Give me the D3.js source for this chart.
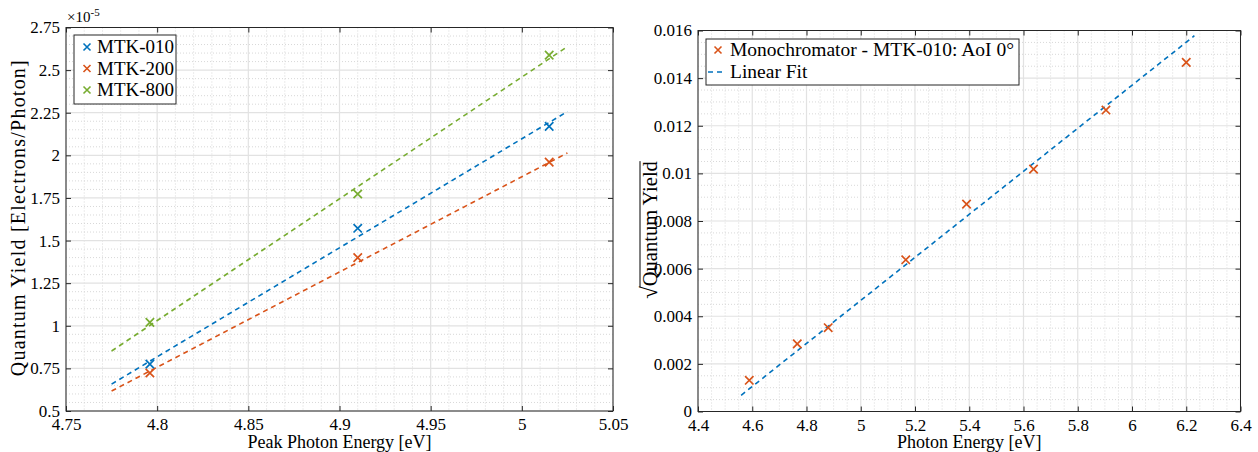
<!DOCTYPE html>
<html lang="en">
  <head>
    <meta charset="utf-8">
    <title>Quantum Yield vs Photon Energy</title>
    <script src="https://cdn.jsdelivr.net/npm/d3@7"></script>
    <style>
      body { margin: 0; background: #fff; }
      svg text { font-family: "Liberation Serif", "DejaVu Serif", serif !important; fill: #000; }
      .domain { display: none; }
    </style>
  </head>
  <body>
    <svg id="chart" width="1258" height="452"></svg>
    <script>
      // left panel: peak photon energy vs quantum yield (x1e-5)
      var peakEnergy = [4.796, 4.91, 5.015];
      var qyMTK010 = [0.775, 1.572, 2.17];
      var qyMTK200 = [0.723, 1.40, 1.96];
      var qyMTK800 = [1.02, 1.773, 2.588];
      var fitEnergy = [4.775, 5.025];
      var fitMTK010 = [0.658, 2.257];
      var fitMTK200 = [0.617, 2.014];
      var fitMTK800 = [0.852, 2.638];
      var leftXTicks = [4.75, 4.8, 4.85, 4.9, 4.95, 5, 5.05];
      var leftYTicks = [0.5, 0.75, 1, 1.25, 1.5, 1.75, 2, 2.25, 2.5, 2.75];
      var leftSeries = ["MTK-010", "MTK-200", "MTK-800"];

      // right panel: monochromator sqrt(QY)
      var monoEnergy = [4.589, 4.766, 4.88, 5.166, 5.39, 5.637, 5.904, 6.2];
      var sqrtQY = [0.00131, 0.00284, 0.00352, 0.00637, 0.00871, 0.01018, 0.01266, 0.01466];
      var linFitEnergy = [4.559, 6.23];
      var linFitValue = [0.00068, 0.01578];
      var rightXTicks = [4.4, 4.6, 4.8, 5, 5.2, 5.4, 5.6, 5.8, 6, 6.2, 6.4];
      var rightYTicks = [0, 0.002, 0.004, 0.006, 0.008, 0.01, 0.012, 0.014, 0.016];

      var blue = "#0072BD", orange = "#D95319", green = "#77AC30";
      var serif = '"Liberation Serif", "DejaVu Serif", serif';
      var svg = d3.select("#chart").style("font-family", serif);

      function minorTicks(major, n) {
        var out = [];
        for (var i = 0; i < major.length - 1; i++) {
          var step = (major[i + 1] - major[i]) / n;
          for (var k = 1; k < n; k++) out.push(major[i] + k * step);
        }
        return out;
      }

      function panel(opt) {
        var x = d3.scaleLinear().domain(d3.extent(opt.xTicks)).range([opt.x0, opt.x1]);
        var y = d3.scaleLinear().domain(d3.extent(opt.yTicks)).range([opt.y1, opt.y0]);
        var g = svg.append("g");

        // minor grid
        g.selectAll(".mx").data(minorTicks(opt.xTicks, opt.xMinor)).enter().append("line")
          .attr("x1", function(d) { return x(d); }).attr("x2", function(d) { return x(d); })
          .attr("y1", opt.y0).attr("y2", opt.y1)
          .attr("stroke", "#d8d8d8").attr("stroke-width", 1).attr("stroke-dasharray", "1,2");
        g.selectAll(".my").data(minorTicks(opt.yTicks, opt.yMinor)).enter().append("line")
          .attr("y1", function(d) { return y(d); }).attr("y2", function(d) { return y(d); })
          .attr("x1", opt.x0).attr("x2", opt.x1)
          .attr("stroke", "#d8d8d8").attr("stroke-width", 1).attr("stroke-dasharray", "1,2");
        // major grid
        g.selectAll(".gx").data(opt.xTicks).enter().append("line")
          .attr("x1", function(d) { return x(d); }).attr("x2", function(d) { return x(d); })
          .attr("y1", opt.y0).attr("y2", opt.y1)
          .attr("stroke", "#e2e2e2").attr("stroke-width", 1.2);
        g.selectAll(".gy").data(opt.yTicks).enter().append("line")
          .attr("y1", function(d) { return y(d); }).attr("y2", function(d) { return y(d); })
          .attr("x1", opt.x0).attr("x2", opt.x1)
          .attr("stroke", "#e2e2e2").attr("stroke-width", 1.2);

        // axes (ticks inward on all four sides)
        var fmt = d3.format("~g");
        var ax = [
          g.append("g").attr("transform", "translate(0," + opt.y1 + ")")
            .call(d3.axisBottom(x).tickValues(opt.xTicks).tickFormat(fmt).tickSizeInner(-5).tickPadding(7)),
          g.append("g").attr("transform", "translate(0," + opt.y0 + ")")
            .call(d3.axisTop(x).tickValues(opt.xTicks).tickFormat("").tickSizeInner(-5)),
          g.append("g").attr("transform", "translate(" + opt.x0 + ",0)")
            .call(d3.axisLeft(y).tickValues(opt.yTicks).tickFormat(fmt).tickSizeInner(-5).tickPadding(6)),
          g.append("g").attr("transform", "translate(" + opt.x1 + ",0)")
            .call(d3.axisRight(y).tickValues(opt.yTicks).tickFormat("").tickSizeInner(-5))
        ];
        ax.forEach(function(a) { a.attr("font-family", serif).attr("font-size", 17); });
        g.selectAll(".tick line").attr("stroke", "#262626");
        g.selectAll(".tick text").attr("fill", "#000");

        g.append("rect").attr("x", opt.x0).attr("y", opt.y0)
          .attr("width", opt.x1 - opt.x0).attr("height", opt.y1 - opt.y0)
          .attr("fill", "none").attr("stroke", "#262626").attr("stroke-width", 1);

        // x label
        g.append("text").attr("x", (opt.x0 + opt.x1) / 2).attr("y", 448)
          .attr("text-anchor", "middle").style("font-size", "18px").text(opt.xLabel);

        return { g: g, x: x, y: y };
      }

      function crossPath(cx, cy, s) {
        return "M" + (cx - s) + "," + (cy - s) + "L" + (cx + s) + "," + (cy + s) +
               "M" + (cx - s) + "," + (cy + s) + "L" + (cx + s) + "," + (cy - s);
      }

      function crosses(p, xs, ys, color) {
        p.g.selectAll(null).data(xs.map(function(d, i) { return [d, ys[i]]; })).enter().append("path")
          .attr("d", function(d) { return crossPath(p.x(d[0]), p.y(d[1]), 4.2); })
          .attr("stroke", color).attr("stroke-width", 1.7).attr("fill", "none");
      }

      function fitLine(p, xs, ys, color) {
        var line = d3.line().x(function(d) { return p.x(d[0]); }).y(function(d) { return p.y(d[1]); });
        p.g.append("path").datum(xs.map(function(d, i) { return [d, ys[i]]; }))
          .attr("d", line).attr("fill", "none").attr("stroke", color)
          .attr("stroke-width", 1.6).attr("stroke-dasharray", "5,4");
      }

      // ---- left panel ----
      var L = panel({ x0: 66, x1: 613, y0: 27.5, y1: 411, xTicks: leftXTicks, yTicks: leftYTicks,
                      xMinor: 5, yMinor: 5, xLabel: "Peak Photon Energy [eV]" });
      fitLine(L, fitEnergy, fitMTK010, blue);
      fitLine(L, fitEnergy, fitMTK200, orange);
      fitLine(L, fitEnergy, fitMTK800, green);
      crosses(L, peakEnergy, qyMTK010, blue);
      crosses(L, peakEnergy, qyMTK200, orange);
      crosses(L, peakEnergy, qyMTK800, green);

      var mult = L.g.append("text").attr("x", 67).attr("y", 22).style("font-size", "15px");
      mult.append("tspan").text("\u00d710");
      mult.append("tspan").attr("dy", -6).style("font-size", "11px").text("-5");

      L.g.append("text").attr("transform", "translate(25," + ((27.5 + 411) / 2 - 1) + ") rotate(-90)")
        .attr("text-anchor", "middle").style("font-size", "20px")
        .attr("textLength", 316).attr("lengthAdjust", "spacing")
        .text("Quantum Yield [Electrons/Photon]");

      var lg = L.g.append("g");
      lg.append("rect").attr("x", 74).attr("y", 35).attr("width", 102).attr("height", 69)
        .attr("fill", "#fff").attr("stroke", "#262626").attr("stroke-width", 1);
      var legColors = [blue, orange, green];
      leftSeries.forEach(function(name, i) {
        var cy = 47 + i * 21.5;
        lg.append("path").attr("d", crossPath(87, cy, 3.5))
          .attr("stroke", legColors[i]).attr("stroke-width", 1.6);
        lg.append("text").attr("x", 97).attr("y", cy + 6).style("font-size", "19px").text(name);
      });

      // ---- right panel ----
      var R = panel({ x0: 698, x1: 1240.5, y0: 30.5, y1: 411.5, xTicks: rightXTicks, yTicks: rightYTicks,
                      xMinor: 4, yMinor: 4, xLabel: "Photon Energy [eV]" });
      fitLine(R, linFitEnergy, linFitValue, blue);
      crosses(R, monoEnergy, sqrtQY, orange);

      var ylT = "translate(657," + ((30.5 + 411.5) / 2 + 9) + ") rotate(-90)";
      var yl = R.g.append("text").attr("transform", ylT)
        .attr("text-anchor", "middle").style("font-size", "20.5px");
      yl.append("tspan").style("font-size", "23px").text("\u221a");
      var ov = yl.append("tspan").text("Quantum Yield");
      // overline above the radicand
      var ext = ov.node().getComputedTextLength();
      var start = ov.node().getStartPositionOfChar(0);
      R.g.append("line").attr("transform", ylT)
        .attr("x1", start.x - 1).attr("x2", start.x + ext)
        .attr("y1", -17).attr("y2", -17)
        .attr("stroke", "#000").attr("stroke-width", 1);

      var rg = R.g.append("g");
      rg.append("rect").attr("x", 706).attr("y", 39).attr("width", 313).attr("height", 46)
        .attr("fill", "#fff").attr("stroke", "#262626").attr("stroke-width", 1);
      rg.append("path").attr("d", crossPath(718, 50, 3.5))
        .attr("stroke", orange).attr("stroke-width", 1.6);
      rg.append("text").attr("x", 730).attr("y", 56).style("font-size", "19.5px")
        .attr("textLength", 284).attr("lengthAdjust", "spacing")
        .text("Monochromator - MTK-010:  AoI 0\u00b0");
      rg.append("line").attr("x1", 708).attr("x2", 724).attr("y1", 72).attr("y2", 72)
        .attr("stroke", blue).attr("stroke-width", 1.5).attr("stroke-dasharray", "5,4");
      rg.append("text").attr("x", 730).attr("y", 78).style("font-size", "19.5px").text("Linear Fit");
    </script>
  </body>
</html>
